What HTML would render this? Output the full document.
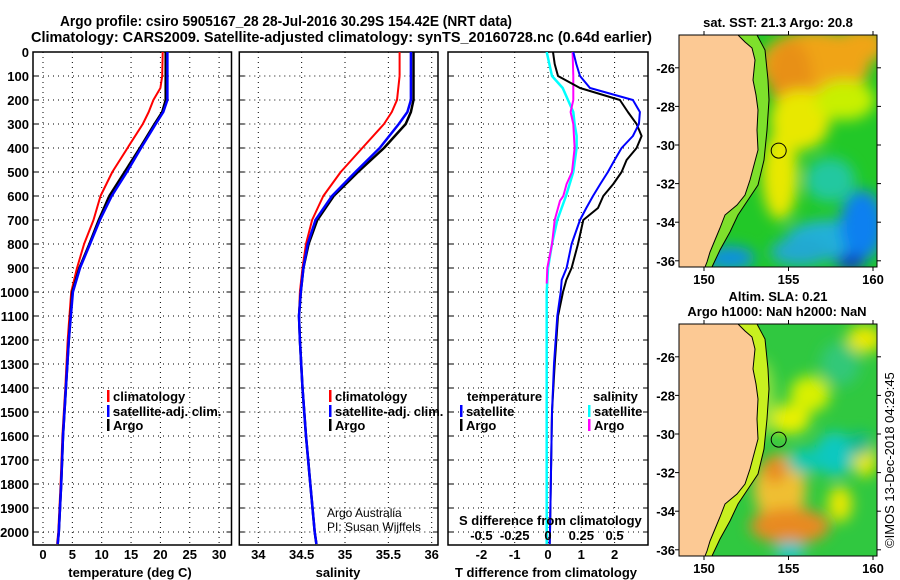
<!DOCTYPE html>
<html><head><meta charset="utf-8">
<style>
html,body{margin:0;padding:0;background:#fff;}
svg{display:block;font-family:"Liberation Sans",sans-serif;}
.t{font-weight:bold;font-size:13px;fill:#000;}
</style></head>
<body>
<svg id="fig" width="900" height="580" viewBox="0 0 900 580" xmlns="http://www.w3.org/2000/svg">
<defs>
<clipPath id="cp1"><rect x="33" y="52" width="198" height="493"/></clipPath>
<clipPath id="cp2"><rect x="239" y="52" width="199" height="493"/></clipPath>
<clipPath id="cp3"><rect x="448" y="52" width="200" height="493"/></clipPath>
<clipPath id="cpm"><rect x="679" y="35" width="198" height="232"/></clipPath>
<filter id="bl" x="-50%" y="-50%" width="200%" height="200%"><feGaussianBlur stdDeviation="7"/></filter>
</defs>
<text x="60" y="26" font-size="15" font-weight="bold" textLength="452" lengthAdjust="spacingAndGlyphs">Argo profile: csiro 5905167_28 28-Jul-2016 30.29S 154.42E (NRT data)</text>
<text x="31" y="42" font-size="15" font-weight="bold" textLength="621" lengthAdjust="spacingAndGlyphs">Climatology: CARS2009. Satellite-adjusted climatology: synTS_20160728.nc (0.64d earlier)</text>
<g id="g1"></g><g id="g2"></g><g id="g3"></g><g id="gm"></g>
<text transform="translate(894,548) rotate(-90)" font-size="13">©IMOS 13-Dec-2018 04:29:45</text>
</svg>
<script>
// ---- data ----
const depthsT = [0,100,150,200,250,300,400,500,600,700,800,900,1000,1200,1400,1600,1800,2000,2050];
const climT   = [20.4,20.3,20.0,18.8,18.0,17.0,14.4,11.8,9.8,8.6,7.0,5.8,4.8,4.2,3.8,3.3,3.0,2.6,2.4];
const satT    = [21.2,21.2,21.2,21.2,20.5,19.2,16.7,14.3,11.7,9.7,8.0,6.3,5.1,4.4,3.9,3.4,3.1,2.7,2.5];
const argoT   = [20.9,20.9,20.9,20.9,20.3,19.0,16.5,13.9,11.3,9.5,7.9,6.2,5.0,4.4,3.9,3.4,3.1,2.7,2.5];
const depthsS = [0,100,200,250,300,400,500,600,700,800,900,1000,1100,1200,1400,1600,1800,2000,2050];
const climS   = [35.63,35.63,35.60,35.54,35.45,35.20,34.95,34.75,34.62,34.55,34.51,34.48,34.47,34.48,34.51,34.55,34.60,34.65,34.67];
const satS    = [35.76,35.76,35.76,35.72,35.62,35.40,35.12,34.85,34.66,34.57,34.52,34.49,34.47,34.48,34.51,34.55,34.60,34.65,34.67];
const argoS   = [35.79,35.79,35.79,35.76,35.70,35.45,35.15,34.87,34.68,34.58,34.52,34.49,34.47,34.48,34.51,34.55,34.60,34.65,34.67];
const depthsD = [0,50,100,150,200,250,300,350,400,450,500,550,600,650,700,800,900,950,1000,1100,1300,1500,2000,2050];
const dTsat   = [0.76,0.85,0.96,1.26,2.55,2.76,2.73,2.55,2.21,2.0,1.8,1.57,1.35,1.15,0.96,0.71,0.56,0.41,0.38,0.28,0.18,0.12,0.06,0.05];
const dTargo  = [0.15,0.2,0.3,0.96,2.16,2.4,2.66,2.81,2.66,2.36,2.21,1.96,1.66,1.5,1.06,0.9,0.71,0.55,0.45,0.3,0.2,0.12,0.06,0.05];
const depthsDS = [0,100,150,200,250,300,350,400,500,600,700,800,900,1000,1500,2050];
const dSsat   = [-0.01,0.03,0.11,0.15,0.19,0.2,0.215,0.215,0.19,0.135,0.07,0.03,0.0,-0.01,-0.01,-0.01];
const depthsDA = [0,100,200,250,300,400,500,550,600,620,700,800,900,965];
const dSargo  = [0.185,0.19,0.19,0.17,0.19,0.2,0.18,0.14,0.115,0.09,0.05,0.03,-0.005,-0.01];
const depthTicks = [0,100,200,300,400,500,600,700,800,900,1000,1100,1200,1300,1400,1500,1600,1700,1800,1900,2000];
const tTicks = [0,5,10,15,20,25,30];
const sTicks = [34,34.5,35,35.5,36];
const sTickLabels = ['34','34.5','35','35.5','36'];
const dTTicks = [-2,-1,0,1,2];
const dSTicks = [-0.5,-0.25,0,0.25,0.5];
const dSTickLabels = ['-0.5','-0.25','0','0.25','0.5'];
const latTicks = [-26,-28,-30,-32,-34,-36];
const lonTicks = [150,155,160];

const NS='http://www.w3.org/2000/svg';
function mk(p,tag,a,txt){const e=document.createElementNS(NS,tag);for(const k in a)e.setAttribute(k,a[k]);if(txt!==undefined)e.textContent=txt;p.appendChild(e);return e;}
const yD = d => 52 + 0.24*d;
const xT = t => 43 + 5.87*t;
const xS = s => 258.3 + 86.7*(s-34);
const xDT = t => 548 + 33.3*t;
const xDS = s => 548 + 133.2*s;

function frame(g,x0,x1,name){
  const r=mk(g,'rect',{x:x0,y:52,width:x1-x0,height:493,fill:'none',stroke:'#000','stroke-width':1.5});
  
  
  depthTicks.forEach(d=>{
    if(d===0)return;
    const l=mk(g,'line',{x1:x0,x2:x1,y1:yD(d),y2:yD(d),stroke:'#000','stroke-dasharray':'1 4','stroke-width':1});
    
    
    mk(g,'line',{x1:x0,x2:x0+5,y1:yD(d),y2:yD(d),stroke:'#000'});
    mk(g,'line',{x1:x1-5,x2:x1,y1:yD(d),y2:yD(d),stroke:'#000'});
  });
}
function vgrid(g,xs,name){
  xs.forEach(x=>{
    const l=mk(g,'line',{x1:x,x2:x,y1:52,y2:545,stroke:'#000','stroke-dasharray':'1 4'});
    
    
  });
}
function line(g,xs,ds,fx,color,w,name,clip){
  const pts=xs.map((v,i)=>fx(v).toFixed(1)+','+yD(ds[i]).toFixed(1)).join(' ');
  const p=mk(g,'polyline',{points:pts,fill:'none',stroke:color,'stroke-width':w,'clip-path':'url(#'+clip+')','stroke-linejoin':'round'});
  
  
}
function legend(g,x,y,color,label,name){
  mk(g,'rect',{x:x,y:y-7,width:2.5,height:12,fill:color});
  const t=mk(g,'text',{x:x+6,y:y+4,class:'t'},label);
  
  
}

// Panel 1
const g1=document.getElementById('g1');
vgrid(g1,tTicks.map(xT),'temperature');
frame(g1,33,231.5,'temperature-panel');
depthTicks.forEach(d=>{
  const t=mk(g1,'text',{x:29,y:yD(d)+5,class:'t','text-anchor':'end'},String(d));
  
  
});
tTicks.forEach(v=>{
  const t=mk(g1,'text',{x:xT(v),y:559,class:'t','text-anchor':'middle'},String(v));
  
  
});
{const t=mk(g1,'text',{x:130,y:577,class:'t','text-anchor':'middle'},'temperature (deg C)');

}
line(g1,climT,depthsT,xT,'#f00',2,'temperature-climatology-line','cp1');
line(g1,argoT,depthsT,xT,'#000',2.5,'temperature-argo-line','cp1');
line(g1,satT,depthsT,xT,'#00f',2.5,'temperature-satellite-line','cp1');
legend(g1,107,397,'#f00','climatology','legend-climatology');
legend(g1,107,412,'#00f','satellite-adj. clim.','legend-satellite');
legend(g1,107,426,'#000','Argo','legend-argo');

// Panel 2
const g2=document.getElementById('g2');
vgrid(g2,sTicks.map(xS),'salinity');
frame(g2,239.3,438,'salinity-panel');
sTicks.forEach((v,i)=>{
  const t=mk(g2,'text',{x:xS(v),y:559,class:'t','text-anchor':'middle'},sTickLabels[i]);
  
  
});
{const t=mk(g2,'text',{x:338,y:577,class:'t','text-anchor':'middle'},'salinity');

}
line(g2,climS,depthsS,xS,'#f00',2,'salinity-climatology-line','cp2');
line(g2,argoS,depthsS,xS,'#000',2.5,'salinity-argo-line','cp2');
line(g2,satS,depthsS,xS,'#00f',2.5,'salinity-satellite-line','cp2');
legend(g2,329,397,'#f00','climatology','legend-climatology-2');
legend(g2,329,412,'#00f','satellite-adj. clim.','legend-satellite-2');
legend(g2,329,426,'#000','Argo','legend-argo-2');
{const t=mk(g2,'text',{x:327,y:517,'font-size':12},'Argo Australia');


const t2=mk(g2,'text',{x:327,y:531,'font-size':12},'PI: Susan Wijffels');

}

// Panel 3
const g3=document.getElementById('g3');
vgrid(g3,dTTicks.map(xDT),'difference');
frame(g3,448,648,'difference-panel');
line(g3,dSsat,depthsDS,xDS,'#0ff',2.5,'salinity-diff-satellite-line','cp3');
line(g3,dSargo,depthsDA,xDS,'#f0f',2,'salinity-diff-argo-line','cp3');
line(g3,dTargo,depthsD,xDT,'#000',2,'temperature-diff-argo-line','cp3');
line(g3,dTsat,depthsD,xDT,'#00f',2,'temperature-diff-satellite-line','cp3');
legend(g3,460,412,'#00f','satellite','legend-t-satellite');
legend(g3,460,426,'#000','Argo','legend-t-argo');
{const t=mk(g3,'text',{x:467,y:401,class:'t'},'temperature');


const t2=mk(g3,'text',{x:593,y:401,class:'t'},'salinity');

}
legend(g3,588,412,'#0ff','satellite','legend-s-satellite');
legend(g3,588,426,'#f0f','Argo','legend-s-argo');
{const t=mk(g3,'text',{x:459,y:525,class:'t'},'S difference from climatology');

}
dSTicks.forEach((v,i)=>{
  const t=mk(g3,'text',{x:xDS(v),y:540,class:'t','text-anchor':'middle'},dSTickLabels[i]);
  
  
});
dTTicks.forEach(v=>{
  const t=mk(g3,'text',{x:xDT(v),y:559,class:'t','text-anchor':'middle'},String(v));
  
  
});
{const t=mk(g3,'text',{x:546,y:577,class:'t','text-anchor':'middle'},'T difference from climatology');

}

// Maps
const gm=document.getElementById('gm');
const coast=[[679,35],[738,35],[745,42],[752,48],[755,60],[753,80],[756,95],[758,110],[757,130],[758,150],[754,165],[750,180],[745,195],[737,205],[725,215],[720,228],[715,240],[710,252],[707,262],[705,267],[679,267]];
const shelf=[[757,35],[765,50],[768,80],[769,100],[767,130],[764,160],[758,185],[748,200],[738,215],[730,232],[720,250],[712,267]];
const xLon = lon => 704 + 16.9*(lon-150);
const yLat = lat => 145 - 19.3*(lat+30);
function map(dy,blobs,base,shelfFill,title1,title2,name){
  const g=mk(gm,'g',{transform:'translate(0,'+dy+')'});
  
  
  const c=mk(g,'g',{'clip-path':'url(#cpm)'});
  mk(c,'rect',{x:679,y:35,width:198,height:232,fill:base});
  const bg=mk(c,'g',{filter:'url(#bl)'});
  blobs.forEach(b=>mk(bg,'ellipse',{cx:b[0],cy:b[1],rx:b[2],ry:b[3],fill:b[4]}));
  const sp=shelf.map(p=>p.join(',')).join(' ')+' 679,267 679,35';
  mk(c,'polygon',{points:sp,fill:shelfFill});
  mk(c,'polyline',{points:shelf.map(p=>p.join(',')).join(' '),fill:'none',stroke:'#000','stroke-width':1});
  const land=mk(c,'polygon',{points:coast.map(p=>p.join(',')).join(' '),fill:'#fcc994',stroke:'#000','stroke-width':1});
  
  
  const m=mk(g,'circle',{cx:xLon(154.42),cy:yLat(-30.29),r:7.5,fill:'none',stroke:'#000','stroke-width':1});
  
  
  mk(g,'rect',{x:679,y:35,width:198,height:232,fill:'none',stroke:'#000','stroke-width':1});
  latTicks.forEach(l=>{
    const t=mk(g,'text',{x:675,y:yLat(l)+5,class:'t','text-anchor':'end'},String(l));
    
    
    mk(g,'line',{x1:877,x2:881,y1:yLat(l),y2:yLat(l),stroke:'#000'});
    mk(g,'line',{x1:675,x2:679,y1:yLat(l),y2:yLat(l),stroke:'#000'});
  });
  lonTicks.forEach(l=>{
    const t=mk(g,'text',{x:xLon(l),y:284,class:'t','text-anchor':'middle'},String(l));
    
    
    mk(g,'line',{x1:xLon(l),x2:xLon(l),y1:31,y2:35,stroke:'#000'});
    mk(g,'line',{x1:xLon(l),x2:xLon(l),y1:267,y2:271,stroke:'#000'});
  });
  const t1=mk(g,'text',{x:778,y:title2?12:27,class:'t','text-anchor':'middle'},title1);
  
  
  if(title2){const t2=mk(g,'text',{x:777,y:27,class:'t','text-anchor':'middle'},title2);
  
  }
}
map(0,[
 [815,65,55,35,'#f0a418'],[862,45,25,18,'#f0a418'],[790,75,22,35,'#e89018'],[800,120,30,30,'#e8e800'],[780,175,18,45,'#e8e800'],
 [845,100,30,20,'#c8f000'],[830,180,25,22,'#20c8a0'],
 [830,240,45,20,'#20b0d8'],[862,225,22,35,'#1080f0'],[800,252,30,14,'#20a8d0'],[850,262,15,8,'#1030c0'],[730,258,25,12,'#1090e0']
],'#22c828','#7ee02c','sat. SST: 21.3 Argo: 20.8','', 'sst-map');
map(289,[
 [780,200,26,35,'#f0c030'],[790,237,40,18,'#e88a20'],[775,180,12,14,'#e88a20'],[790,130,20,15,'#e8f000'],
 [805,172,18,13,'#10c8b0'],[835,165,20,22,'#10c8c0'],[810,105,20,18,'#d8f000'],[840,75,20,22,'#30c878'],
 [865,50,18,14,'#e8e800'],[865,170,12,18,'#e8e800'],[840,215,12,18,'#e8e800'],[860,155,12,12,'#10b890'],
 [790,262,15,10,'#10c8c8'],[760,110,15,40,'#90e040']
],'#30c840','#c8f020','Altim. SLA: 0.21','Argo h1000: NaN h2000: NaN','sla-map');
</script>
</body></html>
